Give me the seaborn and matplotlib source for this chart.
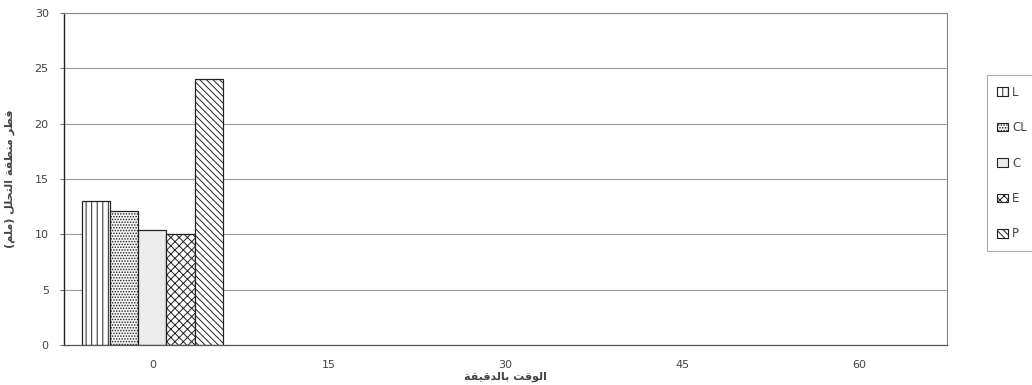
import numpy as np
import pandas as pd
import matplotlib
matplotlib.use("Agg")
import matplotlib.pyplot as plt
import matplotlib.patches as mpatches
import seaborn as sns

# ---------------- data ----------------
times = ["0", "15", "30", "45", "60"]
series = ["L", "CL", "C", "E", "P"]
time_of_values = ["0", "0", "0", "0", "0"]
values = [13.0, 12.1, 10.4, 10.0, 24.0]
y_ticks = [0, 5, 10, 15, 20, 25, 30]
x_label = "الوقت بالدقيقة"
y_label = "قطر منطقة التحلل (ملم)"

# ---------------- minimal Arabic shaping (visual order) ----------------
FORMS = {
    # letter: (isolated, final, initial, medial)  None => does not join forward
    "ا": ("\uFE8D", "\uFE8E", None, None),
    "ل": ("\uFEDD", "\uFEDE", "\uFEDF", "\uFEE0"),
    "و": ("\uFEED", "\uFEEE", None, None),
    "ق": ("\uFED5", "\uFED6", "\uFED7", "\uFED8"),
    "ت": ("\uFE95", "\uFE96", "\uFE97", "\uFE98"),
    "ب": ("\uFE8F", "\uFE90", "\uFE91", "\uFE92"),
    "د": ("\uFEA9", "\uFEAA", None, None),
    "ي": ("\uFEF1", "\uFEF2", "\uFEF3", "\uFEF4"),
    "ة": ("\uFE93", "\uFE94", None, None),
    "ط": ("\uFEC1", "\uFEC2", "\uFEC3", "\uFEC4"),
    "ر": ("\uFEAD", "\uFEAE", None, None),
    "م": ("\uFEE1", "\uFEE2", "\uFEE3", "\uFEE4"),
    "ن": ("\uFEE5", "\uFEE6", "\uFEE7", "\uFEE8"),
    "ح": ("\uFEA1", "\uFEA2", "\uFEA3", "\uFEA4"),
}


def shape_arabic(text):
    out = []
    n = len(text)
    for i, ch in enumerate(text):
        if ch not in FORMS:
            out.append(ch)
            continue
        prev = text[i - 1] if i > 0 else None
        nxt = text[i + 1] if i + 1 < n else None
        joins_prev = prev in FORMS and FORMS[prev][2] is not None
        joins_next = nxt in FORMS and FORMS[ch][2] is not None
        iso, fin, ini, med = FORMS[ch]
        if joins_prev and joins_next:
            out.append(med)
        elif joins_prev:
            out.append(fin)
        elif joins_next:
            out.append(ini)
        else:
            out.append(iso)
    vis = "".join(out)[::-1]
    vis = vis.translate(str.maketrans({"(": ")", ")": "("}))
    return vis


df = pd.DataFrame({"time": time_of_values, "series": series, "value": values})

sns.set_theme(style="white")
plt.rcParams["font.family"] = ["DejaVu Sans"]
plt.rcParams["hatch.linewidth"] = 0.7

fig = plt.figure(figsize=(10.32, 3.85), dpi=100)
ax = fig.add_axes([0.062, 0.104, 0.856, 0.862])

sns.barplot(data=df, x="time", y="value", hue="series", order=times,
            hue_order=series, width=0.8, ax=ax, legend=False,
            edgecolor="black", linewidth=0.9, errorbar=None)

styles = {
    "L": dict(facecolor="white", hatch="|||"),
    "CL": dict(facecolor="#f4f4f4", hatch="......"),
    "C": dict(facecolor="#ececec", hatch=None),
    "E": dict(facecolor="white", hatch="xxxx"),
    "P": dict(facecolor="white", hatch="\\\\\\\\\\"),
}

for s, container in zip(series, ax.containers):
    for bar in container:
        bar.set_facecolor(styles[s]["facecolor"])
        if styles[s]["hatch"]:
            bar.set_hatch(styles[s]["hatch"])
        bar.set_edgecolor("#222222")

ax.set_ylim(0, 30)
ax.set_yticks(y_ticks)
ax.set_xlim(-0.5, len(times) - 0.5)
ax.yaxis.grid(True, color="#9a9a9a", linewidth=0.8)
ax.set_axisbelow(True)

ax.tick_params(axis="y", left=True, length=3, width=0.7, color="#666666",
               labelsize=8, labelcolor="#444444", pad=8)
ax.tick_params(axis="x", bottom=False, labelsize=8, labelcolor="#444444", pad=5)

for side in ["top", "right"]:
    ax.spines[side].set_color("#888888")
    ax.spines[side].set_linewidth(0.8)
ax.spines["left"].set_color("#222222")
ax.spines["left"].set_linewidth(1.0)
ax.spines["bottom"].set_color("#555555")
ax.spines["bottom"].set_linewidth(0.9)

ax.set_xlabel(shape_arabic(x_label), fontsize=8, fontweight="bold",
              color="#444444", labelpad=1)
ax.set_ylabel(shape_arabic(y_label), fontsize=8, fontweight="bold",
              color="#444444", labelpad=14)

handles = [mpatches.Patch(facecolor=styles[s]["facecolor"],
                          hatch=styles[s]["hatch"], edgecolor="#222222",
                          linewidth=0.8, label=s) for s in series]
leg = fig.legend(handles=handles, loc="upper left",
                 bbox_to_anchor=(0.956, 0.805), frameon=True, fancybox=False,
                 fontsize=8.5, labelspacing=1.9, handlelength=0.9,
                 handleheight=0.75, handletextpad=0.35, borderpad=0.9,
                 borderaxespad=0)
leg.get_frame().set_edgecolor("#999999")
leg.get_frame().set_linewidth(0.8)
for t in leg.get_texts():
    t.set_color("#444444")

fig.savefig("out.png", dpi=100)
